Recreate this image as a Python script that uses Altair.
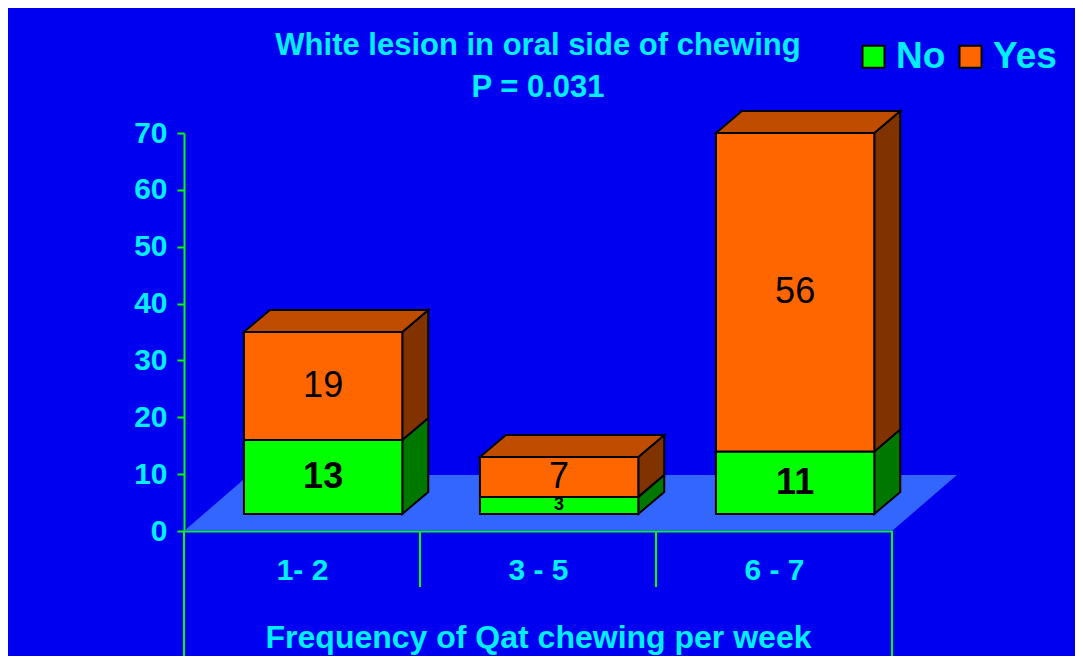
import json
import altair as alt
import pandas as pd

# ---------------- data ----------------
categories = ["1- 2", "3 - 5", "6 - 7"]
no_values = [13, 3, 11]
yes_values = [19, 7, 56]
series = ["No", "Yes"]
y_ticks = [0, 10, 20, 30, 40, 50, 60, 70]
title_lines = ["White lesion in oral side of chewing", "P = 0.031"]
x_title = "Frequency of Qat chewing per week"

# ---------------- style ----------------
BG = "#0000F0"
CYAN = "#00EEFF"
AXIS_GREEN = "#00FF00"
FRONT = {"No": "#00FF00", "Yes": "#FF6600"}
SIDE = {"No": "#007800", "Yes": "#803300"}
TOP = {"No": "#00B000", "Yes": "#C04C00"}
FLOOR = "#3366FF"
FONT = "Liberation Sans"

# 3-D geometry in axis units
BAR_OFF_X = 0.254
BAR_W = 0.671
BASE = 3.0
DEPTH_X = 0.11
DEPTH_Y = 3.87
FLOOR_X = 0.275
FLOOR_Y = 9.85
X_DOM = [0, len(categories)]
Y_DOM = [0, 70]

xs = alt.Scale(domain=X_DOM, nice=False, zero=False)
ys = alt.Scale(domain=Y_DOM, nice=False, zero=False)

front_rows, side_rows, top_rows, label_rows = [], [], [], []
for i, cat in enumerate(categories):
    x0 = i + BAR_OFF_X
    x1 = x0 + BAR_W
    lo = BASE
    segs = [("No", no_values[i]), ("Yes", yes_values[i])]
    for s, v in segs:
        hi = lo + v
        front_rows.append({"cat": cat, "series": s, "x": x0, "x2": x1, "y": lo, "y2": hi, "value": v})
        sid = f"{cat}-{s}"
        side_rows.append({"id": sid, "x": x1, "y": lo, "y2": hi, "fill": SIDE[s]})
        side_rows.append({"id": sid, "x": x1 + DEPTH_X, "y": lo + DEPTH_Y, "y2": hi + DEPTH_Y, "fill": SIDE[s]})
        label_rows.append({"series": s, "x": (x0 + x1) / 2, "y": (lo + hi) / 2,
                           "text": str(v), "fs": 36 if v >= 5 else 18})
        lo = hi
    top_rows.append({"id": cat, "y": lo, "x": x0, "x2": x1, "fill": TOP["Yes"]})
    top_rows.append({"id": cat, "y": lo + DEPTH_Y, "x": x0 + DEPTH_X, "x2": x1 + DEPTH_X, "fill": TOP["Yes"]})

floor_rows = [
    {"id": "floor", "y": 0, "x": X_DOM[0], "x2": X_DOM[1]},
    {"id": "floor", "y": FLOOR_Y, "x": X_DOM[0] + FLOOR_X, "x2": X_DOM[1] + FLOOR_X},
]
rule_rows = [{"x": b, "y": 0, "y2": (-22 if b in (X_DOM[0], X_DOM[1]) else -9.85)}
             for b in range(X_DOM[0], X_DOM[1] + 1)]

front_df = pd.DataFrame(front_rows)
side_df = pd.DataFrame(side_rows)
top_df = pd.DataFrame(top_rows)
floor_df = pd.DataFrame(floor_rows)
rule_df = pd.DataFrame(rule_rows)
label_df = pd.DataFrame(label_rows)

label_expr = "%s[floor(datum.value)]" % json.dumps(categories)

x_enc = alt.X("x:Q", scale=xs, axis=alt.Axis(
    values=[i + 0.5 for i in range(len(categories))], labelExpr=label_expr,
    ticks=False, tickSize=0, grid=False, domainColor=AXIS_GREEN, domainWidth=2,
    labelColor=CYAN, labelFont=FONT, labelFontSize=30, labelFontWeight="bold",
    labelBaseline="alphabetic", labelPadding=48, labelFlush=False, labelOverlap=False,
    title=x_title, titleColor=CYAN, titleFont=FONT, titleFontSize=32, titleFontWeight="bold",
    titleX=354, titleY=116, titleBaseline="alphabetic", titleAlign="center"))
y_enc = alt.Y("y:Q", scale=ys, axis=alt.Axis(
    values=y_ticks, grid=False, tickColor=AXIS_GREEN, tickWidth=2, tickSize=7,
    domainColor=AXIS_GREEN, domainWidth=2, labelColor=CYAN, labelFont=FONT,
    labelFontSize=30, labelFontWeight="bold", labelPadding=10, title=None))

floor = alt.Chart(floor_df).mark_area(orient="horizontal", color=FLOOR).encode(
    x2="x2:Q",
    detail="id:N",
)

rules = alt.Chart(rule_df).mark_rule(color=AXIS_GREEN, strokeWidth=2).encode(
    y2="y2:Q",
)

sides = alt.Chart(side_df).mark_area(orient="vertical", stroke="black", strokeWidth=2).encode(
    y2="y2:Q",
    detail="id:N",
    fill=alt.Fill("fill:N", scale=None, legend=None),
)

tops = alt.Chart(top_df).mark_area(orient="horizontal", stroke="black", strokeWidth=2).encode(
    x2="x2:Q",
    detail="id:N",
    fill=alt.Fill("fill:N", scale=None, legend=None),
)

fronts = alt.Chart(front_df).mark_bar(stroke="black", strokeWidth=2, opacity=1).encode(
    x2="x2:Q",
    y2="y2:Q",
    color=alt.Color("series:N", scale=alt.Scale(domain=series, range=[FRONT[s] for s in series]),
                    legend=alt.Legend(title=None, orient="none", legendX=671, legendY=-95,
                                      direction="horizontal", symbolType="square", symbolSize=484,
                                      symbolStrokeColor="black", symbolStrokeWidth=2,
                                      symbolOpacity=1, labelColor=CYAN, labelFont=FONT,
                                      labelFontSize=37, labelFontWeight="bold", labelOffset=4,
                                      columnPadding=6, padding=0)),
)

labels_bold = alt.Chart(label_df).transform_filter("datum.series == 'No'").mark_text(
    font=FONT, fontWeight="bold", color="black", baseline="middle", align="center").encode(
    text="text:N",
    size=alt.Size("fs:Q", scale=None, legend=None),
)
labels_reg = alt.Chart(label_df).transform_filter("datum.series == 'Yes'").mark_text(
    font=FONT, fontWeight="normal", color="black", baseline="middle", align="center").encode(
    text="text:N",
    size=alt.Size("fs:Q", scale=None, legend=None),
)

chart = alt.layer(floor, rules, sides, tops, fronts, labels_bold, labels_reg).encode(
    x=x_enc, y=y_enc,
).properties(
    width=708, height=398,
    autosize=alt.AutoSizeParams(type="none"),
    padding={"left": 176, "top": 125, "right": 183, "bottom": 125},
    background=BG,
    title=alt.TitleParams(text=title_lines, color=CYAN, font=FONT, fontSize=31,
                          fontWeight="bold", lineHeight=42, anchor="middle", frame="group",
                          offset=0, dy=66),
).configure_view(strokeWidth=0)

chart.save("out.html", embed_options={"renderer": "svg", "actions": False})
